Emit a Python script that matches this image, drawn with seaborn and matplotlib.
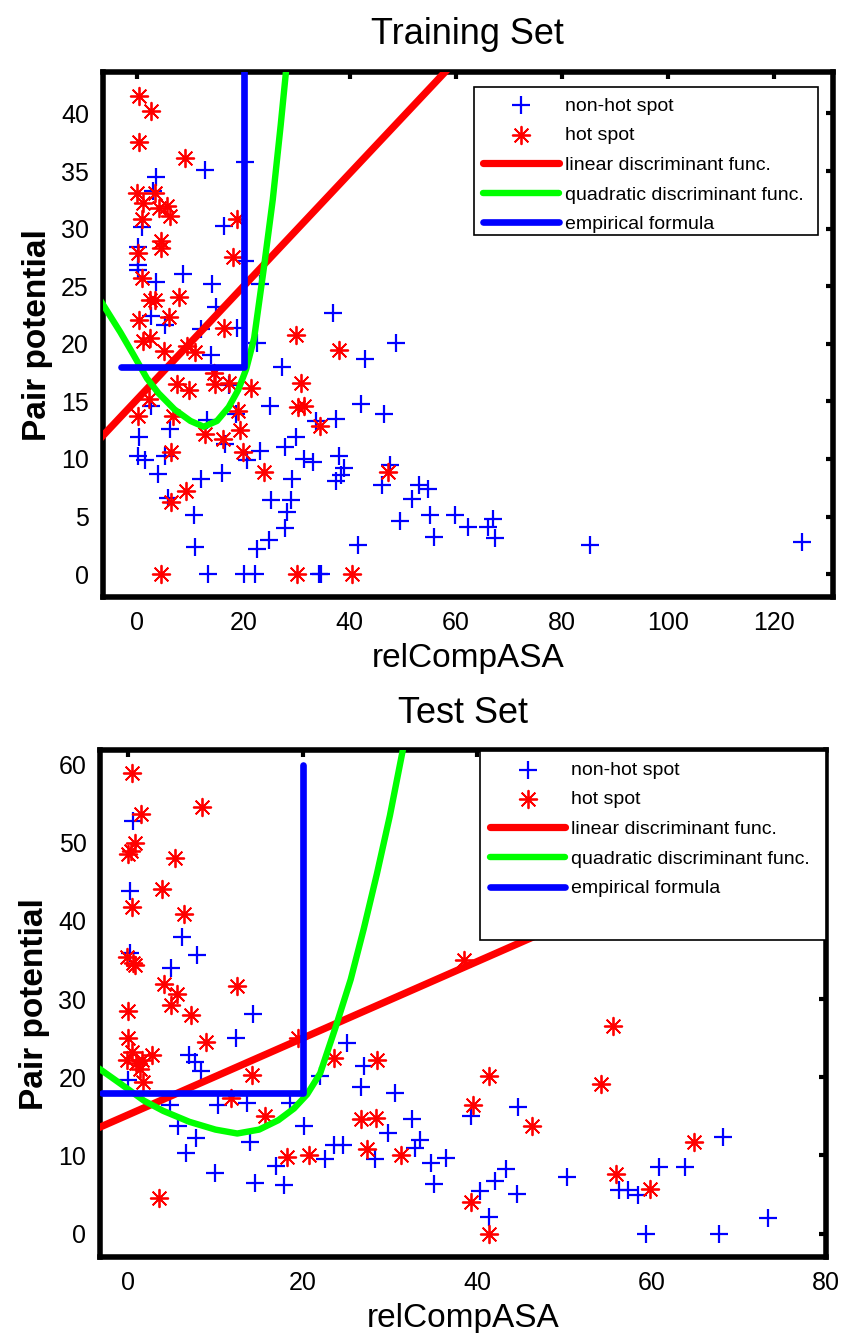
import matplotlib
matplotlib.use('Agg')
import matplotlib.pyplot as plt
from matplotlib.patches import Rectangle
import seaborn as sns

sns.set_theme(style='white')
plt.rcParams['font.family'] = ['Liberation Sans', 'DejaVu Sans']
plt.rcParams['text.color'] = 'black'
plt.rcParams['axes.labelcolor'] = 'black'

# ---- Training set ----
train_non_x = [12.8, 20.2, 3.6, 3.0, 0.8, 16.3, 0.1, 0.1, 0.1, 20.2, 8.6, 3.6, 14.0, 23.1, 14.9, 2.5, 5.3, 11.9, 18.8,
               22.6, 27.3, 13.8, 17.2, 2.5, 6.2, 13.2, 18.5, 25.0, 29.8, 0.4, 0.1, 1.5, 5.3, 3.8, 16.6, 23.1, 27.9,
               20.7, 12.0, 16.0, 29.2, 5.8, 25.1, 28.9, 10.6, 28.2, 27.9, 10.9, 24.8, 22.6, 13.3, 20.1, 22.1,
               36.9, 48.7, 42.9, 42.2, 46.4, 37.5, 33.6, 31.4, 33.0, 37.9, 38.9, 38.3, 37.5, 47.6, 46.0, 53.0,
               54.8, 51.8, 55.2, 59.9, 49.4, 62.2, 67.0, 66.0, 67.4, 55.9, 41.6, 34.2, 34.6, 85.2, 125.2]
train_non_y = [35.1, 35.8, 34.5, 33.3, 30.1, 30.2, 28.4, 26.8, 26.4, 27.2, 26.1, 25.4, 25.2, 25.2, 23.2, 22.4, 21.6, 21.3, 21.4,
               20.1, 18.0, 19.0, 16.4, 14.6, 12.6, 13.4, 13.9, 14.6, 11.9, 11.9, 10.3, 9.9, 10.3, 8.7, 11.3, 10.7, 11.0,
               9.9, 8.3, 8.8, 8.3, 6.6, 6.4, 6.4, 5.1, 5.4, 4.0, 2.4, 3.0, 2.2, 0.0, 0.0, 0.0,
               22.7, 20.1, 18.7, 14.8, 13.9, 13.5, 13.3, 10.0, 9.7, 10.3, 9.2, 8.6, 8.1, 9.5, 7.7, 7.7,
               7.4, 6.5, 5.1, 5.1, 4.6, 4.1, 4.8, 4.1, 3.1, 3.2, 2.5, 0.0, 0.0, 2.5, 2.8]

train_hot_x = [0.4, 2.5, 0.4, 8.9, -0.1, 3.4, 1.1, 4.0, 5.6, 6.2, 0.9, 18.7, 4.5, 4.5, 0.1, 18.1, 0.8, 7.9, 2.3, 3.3,
               0.4, 5.9, 16.3, 1.0, 2.3, 29.8, 5.0, 9.4, 10.9, 7.5, 9.7, 14.4, 14.7, 17.2, 21.4, 30.8, 2.1, 0.1, 6.7,
               18.9, 30.2, 31.4, 12.7, 16.2, 19.4, 6.4, 19.9, 23.8, 9.2, 6.4, 4.5, 30.1, 37.9, 34.4, 47.3, 40.5]
train_hot_y = [41.5, 40.2, 37.5, 36.1, 33.1, 33.1, 32.2, 31.8, 32.0, 31.1, 30.8, 30.8, 28.9, 28.3, 27.9, 27.5, 25.7, 24.1, 23.8, 23.8,
               22.1, 22.3, 21.4, 20.2, 20.5, 20.8, 19.4, 19.8, 19.3, 16.5, 16.0, 17.5, 16.5, 16.6, 16.2, 16.6, 15.2, 13.7, 13.7,
               14.2, 14.5, 14.6, 12.2, 11.7, 12.5, 10.6, 10.6, 8.9, 7.2, 6.3, 0.0, 0.0, 19.5, 12.9, 8.9, 0.0]

# ---- Test set ----
test_non_x = [0.5, 0.2, 0.2, 6.2, 7.9, 4.9, 14.3, 12.3, 7.0, 7.7, 8.3, 0.0, 4.8, 10.3, 13.6, 18.6, 5.7, 7.8, 14.0, 6.6,
              16.9, 9.9, 14.5, 17.8, 25.1, 27.0, 26.7, 30.6, 22.0, 20.2, 32.5, 39.3, 44.7, 29.8, 33.4, 32.9, 23.6, 24.6,
              22.6, 28.3, 34.7, 36.4, 35.0, 43.3, 42.0, 40.3, 44.6, 41.4, 50.3, 68.2, 60.8, 63.8, 56.2, 57.3, 58.4,
              59.4, 67.7, 73.3]
test_non_y = [52.8, 43.8, 35.9, 37.9, 35.7, 34.0, 28.1, 25.0, 22.8, 22.0, 20.8, 19.6, 16.4, 16.5, 16.7, 16.7, 13.8, 12.2, 11.7, 10.3,
              8.6, 7.7, 6.5, 6.2, 24.4, 21.4, 18.8, 18.0, 20.1, 13.8, 14.7, 15.0, 16.2, 12.9, 12.0, 11.0, 11.3, 11.3,
              9.6, 9.5, 9.0, 9.7, 6.4, 8.3, 6.7, 5.5, 5.0, 2.1, 7.3, 12.4, 8.5, 8.5, 5.6, 5.6, 4.9,
              0.0, 0.0, 2.0]

test_hot_x = [0.4, 8.5, 1.5, 0.8, 0.3, 0.0, 5.4, 3.9, 0.4, 6.4, -0.1, 0.5, 0.8, 4.1, 12.5, 5.6, 4.9, 0.0, 7.2, 0.0,
              8.9, 0.4, -0.1, 0.9, 1.6, 2.7, 1.3, 1.7, 14.2, 19.5, 11.8, 15.7, 18.2, 3.5, 38.5, 23.6, 28.5, 41.3,
              39.5, 46.3, 26.7, 28.4, 20.7, 27.4, 31.3, 39.3, 41.4, 55.6, 54.2, 64.8, 55.9, 59.8]
test_hot_y = [58.9, 54.6, 53.7, 50.0, 49.0, 48.6, 48.0, 44.1, 41.8, 40.9, 35.4, 34.6, 34.3, 31.9, 31.7, 30.7, 29.2, 28.5, 28.0, 25.0,
              24.5, 23.2, 22.2, 21.8, 22.2, 22.8, 21.0, 19.4, 20.3, 25.0, 17.3, 15.1, 9.8, 4.6, 35.0, 22.4, 22.2, 20.1,
              16.4, 13.8, 14.6, 14.8, 10.1, 10.8, 10.1, 4.1, 0.0, 26.5, 19.1, 11.7, 7.6, 5.7]

# ---- decision boundaries (same in both panels) ----
lin_x = [-10, 140]
lin_y = [10.3, 83.8]
quad_x = [-7.0, -3.2, -0.8, 1.8, 4.0, 7.0, 10.0, 12.5, 15.0, 17.2, 19.0, 20.5, 22.0, 23.8, 25.5, 27.0, 28.5, 30.0, 31.5]
quad_y = [23.8, 21.0, 19.1, 17.0, 15.7, 14.3, 13.3, 12.8, 13.3, 14.5, 16.0, 17.8, 20.5, 26.5, 32.5, 39.0, 46.0, 53.5, 62.0]
emp_x = [-3, 20, 20]
emp_y = [18, 18, 60]

fig = plt.figure(figsize=(8.43, 13.33), dpi=100)
ax1 = fig.add_axes([0.122, 0.552, 0.866, 0.394])
ax2 = fig.add_axes([0.119, 0.057, 0.861, 0.380])


def panel(ax, non_x, non_y, hot_x, hot_y, title, xlim, ylim, xticks, yticks, box):
    sns.scatterplot(x=non_x, y=non_y, ax=ax, marker='+', s=160, color='blue',
                    linewidth=1.6, label='non-hot spot', zorder=2)
    sns.scatterplot(x=hot_x, y=hot_y, ax=ax, marker=(8, 2, 0), s=160, color='red',
                    linewidth=1.3, label='hot spot', zorder=2)
    sns.lineplot(x=lin_x, y=lin_y, ax=ax, color='red', linewidth=5.2,
                 estimator=None, sort=False, label='linear discriminant func.', zorder=3)
    sns.lineplot(x=quad_x, y=quad_y, ax=ax, color='lime', linewidth=4.6,
                 estimator=None, sort=False, label='quadratic discriminant func.', zorder=3)
    sns.lineplot(x=emp_x, y=emp_y, ax=ax, color='blue', linewidth=4.8,
                 estimator=None, sort=False, label='empirical formula', zorder=3)

    ax.set_xlim(*xlim)
    ax.set_ylim(*ylim)
    ax.set_xticks(xticks)
    ax.set_yticks(yticks)
    ax.tick_params(direction='in', length=5, width=3, labelsize=18, pad=10,
                   top=True, right=True, colors='black')
    for sp in ax.spines.values():
        sp.set_linewidth(4)
        sp.set_color('black')
    ax.set_title(title, fontsize=26, pad=20)
    ax.set_xlabel('relCompASA', fontsize=24, labelpad=6)
    ax.set_ylabel('Pair potential', fontsize=24, fontweight='bold', labelpad=6)

    # legend box
    bx, by, bw, bh = box
    ax.add_patch(Rectangle((bx, by), bw, bh, transform=ax.transAxes, facecolor='white',
                           edgecolor='black', linewidth=1.2, zorder=5, clip_on=False))
    handles, labels = ax.get_legend_handles_labels()
    leg = ax.legend(handles, labels, loc='upper left', bbox_to_anchor=(bx, by + bh),
                    frameon=False, fontsize=14, handlelength=3.9, handletextpad=0.3,
                    labelspacing=0.62, borderaxespad=0, borderpad=0.5)
    leg.set_zorder(6)


panel(ax1, train_non_x, train_non_y, train_hot_x, train_hot_y, 'Training Set',
      (-6.5, 131), (-2, 43.6), [0, 20, 40, 60, 80, 100, 120], [0, 5, 10, 15, 20, 25, 30, 35, 40],
      (0.508, 0.690, 0.471, 0.281))
panel(ax2, test_non_x, test_non_y, test_hot_x, test_hot_y, 'Test Set',
      (-3.2, 80), (-3, 61.8), [0, 20, 40, 60, 80], [0, 10, 20, 30, 40, 50, 60],
      (0.523, 0.626, 0.477, 0.372))

fig.savefig('out.png', dpi=100, facecolor='white')
